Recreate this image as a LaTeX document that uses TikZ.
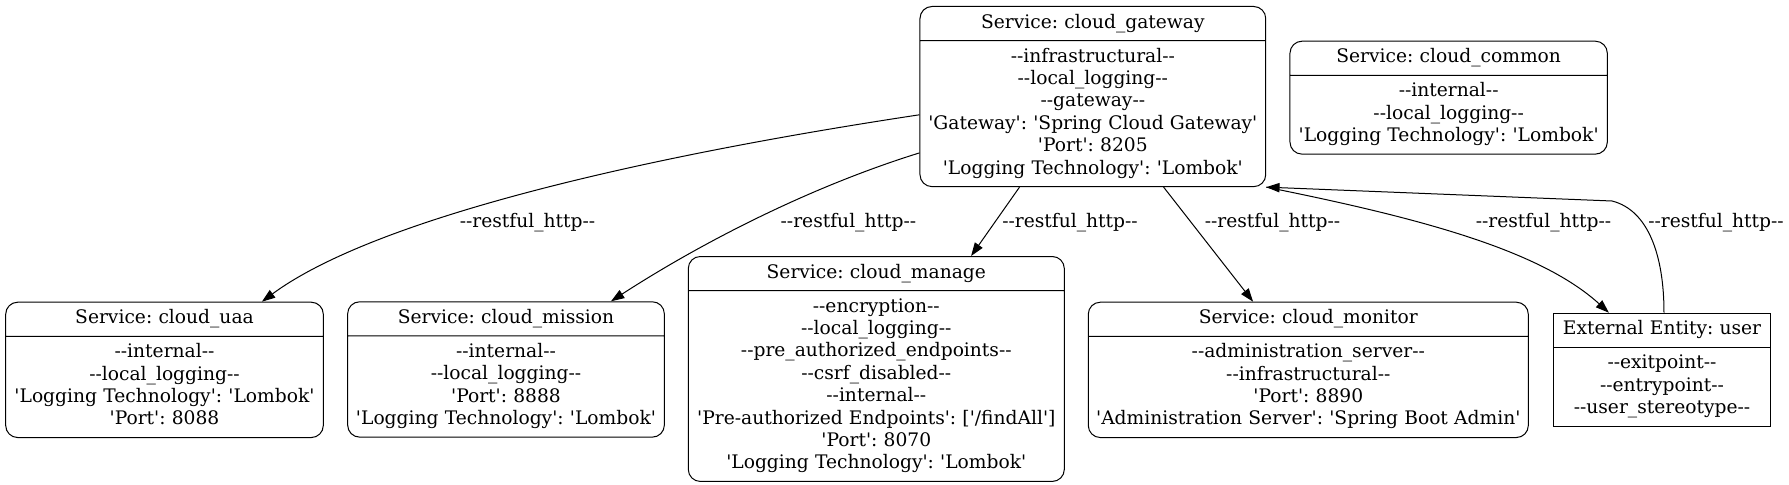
\documentclass[tikz,border=0pt]{standalone}
\usepackage{fontspec}
\setmainfont{DejaVu Serif}[Ligatures=TeXOff]
\usetikzlibrary{shapes.multipart,arrows.meta}
\frenchspacing

\tikzset{
    entity/.style={rectangle split, rectangle split parts=2, draw, line width=0.75pt,
        align=center, inner xsep=4pt, inner ysep=4pt, anchor=north,
        font=\fontsize{14}{16.8}\selectfont},
    service/.style={entity, rounded corners=9pt},
    flow/.style={-{Triangle[length=10pt,width=7pt]}, line width=0.75pt},
    flowlabel/.style={anchor=base, inner sep=0pt, font=\fontsize{14}{16.8}\selectfont}
}

\begin{document}
\begin{tikzpicture}[x=0.75pt, y=-0.75pt]
    \useasboundingbox (0,0) rectangle (1789,485);
    \node[service, text width=251.3pt] (gateway) at (1092.85,6) {
        \strut Service: cloud\_gateway
        \nodepart{two}
        \strut --infrastructural--\\
        --local\_logging--\\
        --gateway--\\
        'Gateway': 'Spring Cloud Gateway'\\
        'Port': 8205\\
        'Logging Technology': 'Lombok'\strut
    };
    \node[service, text width=230pt] (common) at (1448.65,40.7) {
        \strut Service: cloud\_common
        \nodepart{two}
        \strut --internal--\\
        --local\_logging--\\
        'Logging Technology': 'Lombok'\strut
    };
    \node[service, text width=230.2pt] (uaa) at (164.5,301.7) {
        \strut Service: cloud\_uaa
        \nodepart{two}
        \strut --internal--\\
        --local\_logging--\\
        'Logging Technology': 'Lombok'\\
        'Port': 8088\strut
    };
    \node[service, text width=229.5pt] (mission) at (506,301.3) {
        \strut Service: cloud\_mission
        \nodepart{two}
        \strut --internal--\\
        --local\_logging--\\
        'Port': 8888\\
        'Logging Technology': 'Lombok'\strut
    };
    \node[service, text width=274pt] (manage) at (876.3,256) {
        \strut Service: cloud\_manage
        \nodepart{two}
        \strut --encryption--\\
        --local\_logging--\\
        --pre\_authorized\_endpoints--\\
        --csrf\_disabled--\\
        --internal--\\
        'Pre-authorized Endpoints': ['/findAll']\\
        'Port': 8070\\
        'Logging Technology': 'Lombok'\strut
    };
    \node[service, text width=322pt] (monitor) at (1308.3,301.7) {
        \strut Service: cloud\_monitor
        \nodepart{two}
        \strut --administration\_server--\\
        --infrastructural--\\
        'Port': 8890\\
        'Administration Server': 'Spring Boot Admin'\strut
    };
    \node[entity, text width=154.5pt] (user) at (1662,312.7) {
        \strut External Entity: user
        \nodepart{two}
        \strut --exitpoint--\\
        --entrypoint--\\
        --user\_stereotype--\strut
    };

    \draw[flow] (gateway.186.6) .. controls (620,160) and (370,222) .. (uaa.35.6)
        node[flowlabel] at (527.5,227.5) {--restful\_http--};
    \draw[flow] (gateway.198.2) .. controls (800,190) and (690,250) .. (mission.33.67)
        node[flowlabel] at (848.4,227.5) {--restful\_http--};
    \draw[flow] (gateway.231.5) -- (manage.50.76)
        node[flowlabel] at (1070,227.5) {--restful\_http--};
    \draw[flow] (gateway.308.25) -- (monitor.129.83)
        node[flowlabel] at (1272.5,227.5) {--restful\_http--};
    \draw[flow] (gateway.south east) .. controls (1420,218) and (1540,250) .. (user.133.8)
        node[flowlabel] at (1543.5,227.5) {--restful\_http--};
    \draw[flow] (user.88) .. controls (1664,255) and (1648,210) .. (1612,201) -- (gateway.south east)
        node[flowlabel] at (1716,227.5) {--restful\_http--};
\end{tikzpicture}
\end{document}
